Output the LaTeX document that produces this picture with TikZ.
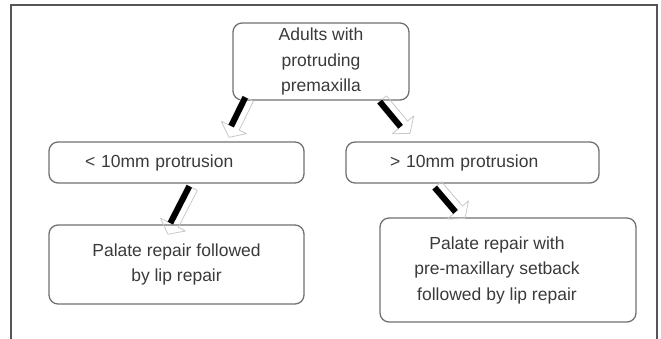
\documentclass[tikz,border=0pt]{standalone}
\usepackage{fontspec}
\setmainfont{Liberation Sans}
\usetikzlibrary{calc}
\definecolor{frameline}{HTML}{555555}
\definecolor{boxline}{HTML}{707070}
\definecolor{txt}{HTML}{3A3A3A}
\definecolor{headgrey}{HTML}{C8C8C8}
\tikzset{
  flowbox/.style={draw=boxline, line width=1.3pt, rounded corners=9pt, inner sep=0pt,
    text=txt, font=\fontsize{17.5}{25.5}\selectfont},
  arrowoutline/.style={draw=headgrey, line width=0.8pt, line join=round},
  arrowbar/.style={draw=black, line width=6pt},
}
\newcommand\fatarr[2]{%
  \coordinate (#1-h) at ($(#2)!11pt!(#1)$);
  \draw[arrowoutline] ($(#1)!6pt!90:(#2)$) -- ($(#1-h)!6pt!90:(#2)$) -- ($(#1-h)!14pt!90:(#2)$) -- (#2) -- ($(#1-h)!14pt!-90:(#2)$) -- ($(#1-h)!6pt!-90:(#2)$) -- ($(#1)!6pt!-90:(#2)$) -- cycle;
  \draw[arrowbar] ($(#1)!3pt!-90:(#2)$) -- ($(#1-h)!3pt!-90:(#2)$);
}
\begin{document}
\begin{tikzpicture}[x=1pt,y=-1pt]
\useasboundingbox (0,0) rectangle (661,339);
\draw[frameline, line width=1.5pt] (11,339) -- (11,5) -- (657,5) -- (657,339);

\node[flowbox, minimum width=176pt, minimum height=77pt, align=center] (top) at (321,61.5)
  {Adults with\\protruding\\premaxilla};
\node[flowbox, text width=183pt, inner xsep=36pt, minimum height=41pt, align=left] (l1) at (176.5,162.5)
  {< 10mm protrusion};
\node[flowbox, text width=165pt, inner xsep=44pt, minimum height=41pt, align=left] (r1) at (472.5,162.5)
  {> 10mm protrusion};
\node[flowbox, minimum width=255pt, minimum height=79pt, align=center] (l2) at (176.5,264.5)
  {Palate repair followed\\by lip repair};
\node[flowbox, minimum width=256pt, minimum height=104pt, align=center] (r2) at (508,270)
  {Palate repair with\kern22pt\\pre-maxillary setback\kern22pt\\followed by lip repair\kern22pt};

\coordinate (a1s) at ($(top.south)+(-73,-2)$);
\coordinate (a1e) at ($(l1.north)+(52.5,-4)$);
\coordinate (a2s) at ($(top.south)+(61,-1)$);
\coordinate (a2e) at ($(r1.north)+(-62.5,-8)$);
\coordinate (a3s) at ($(l1.south)+(15.5,4)$);
\coordinate (a3e) at ($(l2.north)+(-8.5,10)$);
\coordinate (a4s) at ($(r1.south)+(-35.5,2)$);
\coordinate (a4e) at ($(r2.north)+(-43,1)$);
\fatarr{a1s}{a1e}
\fatarr{a2s}{a2e}
\fatarr{a3s}{a3e}
\fatarr{a4s}{a4e}
\end{tikzpicture}
\end{document}
